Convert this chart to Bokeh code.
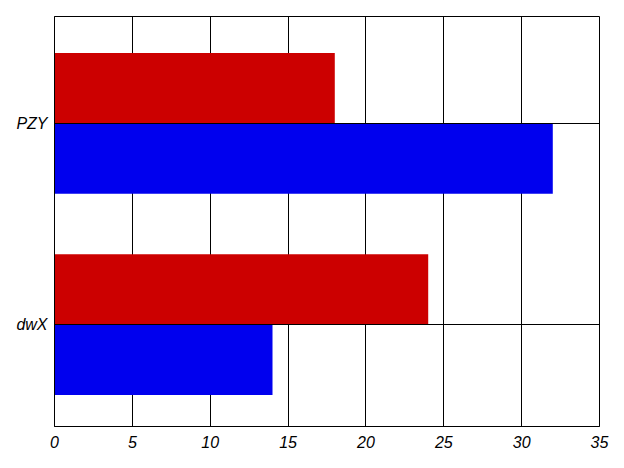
from bokeh.plotting import figure
from bokeh.models import ColumnDataSource, Range1d, FixedTicker
from bokeh.embed import file_html
from bokeh.resources import INLINE

categories = ["dwX", "PZY"]
red_values = [24, 18]
blue_values = [14, 32]
x_ticks = [0, 5, 10, 15, 20, 25, 30, 35]

pos = list(range(len(categories)))
half = 0.175
src_red = ColumnDataSource(dict(y=[p_ + half for p_ in pos], right=red_values))
src_blue = ColumnDataSource(dict(y=[p_ - half for p_ in pos], right=blue_values))

p = figure(width=616, height=460, output_backend="svg", toolbar_location=None,
           x_range=Range1d(0, 35), y_range=Range1d(-0.507, 1.532),
           min_border_left=54, min_border_right=17, min_border_top=16, min_border_bottom=34)

p.hbar(y="y", right="right", left=0, height=0.35, source=src_red,
       fill_color="#CC0000", line_color=None)
p.hbar(y="y", right="right", left=0, height=0.35, source=src_blue,
       fill_color="#0000EE", line_color=None)

p.xaxis.ticker = FixedTicker(ticks=x_ticks)
p.yaxis.ticker = FixedTicker(ticks=pos)
p.yaxis.major_label_overrides = {i: c for i, c in enumerate(categories)}

for ax in (p.xaxis[0], p.yaxis[0]):
    ax.major_tick_line_color = None
    ax.minor_tick_line_color = None
    ax.axis_line_color = "black"
    ax.major_label_text_font = "Liberation Sans"
    ax.major_label_text_font_style = "italic"
    ax.major_label_text_font_size = "16px"
    ax.major_label_text_color = "black"
p.xaxis.major_label_standoff = 3
p.yaxis.major_label_standoff = 1

for g in (p.xgrid[0], p.ygrid[0]):
    g.grid_line_color = "black"
    g.grid_line_alpha = 1.0
    g.grid_line_width = 1
p.xgrid.level = "underlay"
p.ygrid.level = "overlay"

p.outline_line_color = "black"
p.outline_line_alpha = 1.0
p.background_fill_color = "white"
p.border_fill_color = "white"

open("out.html", "w").write(file_html(p, INLINE))
